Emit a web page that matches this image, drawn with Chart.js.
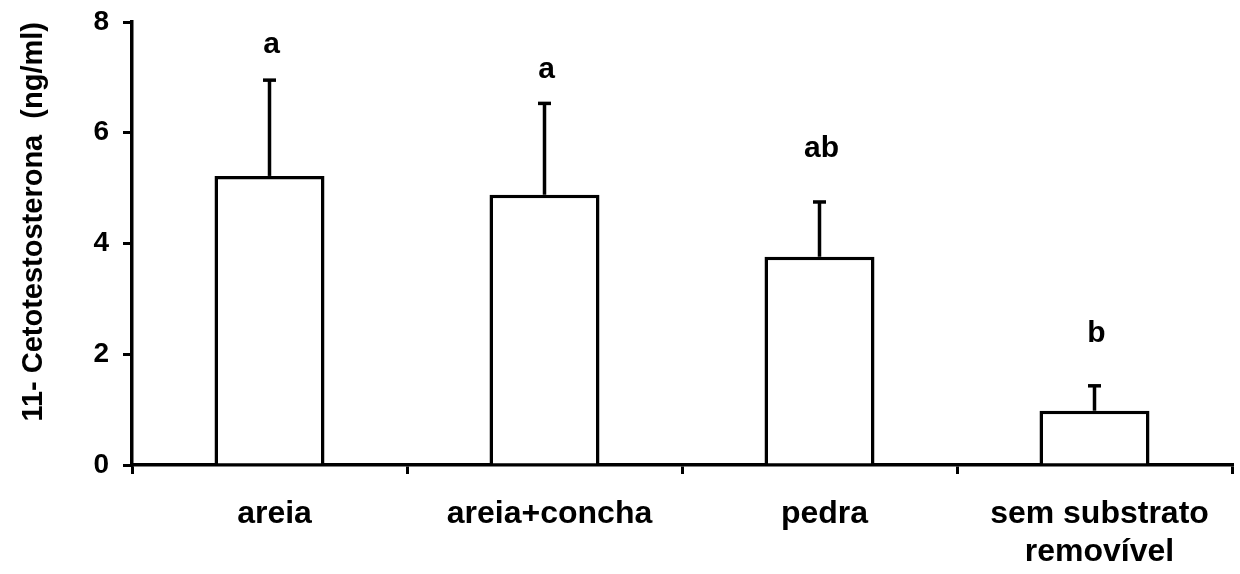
<!DOCTYPE html>
<html>
<head>
<meta charset="utf-8">
<script src="https://cdn.jsdelivr.net/npm/chart.js@4"></script>
<style>
html,body{margin:0;padding:0;background:#fff;}
#wrap{width:1240px;height:574px;position:relative;}
</style>
</head>
<body>
<div id="wrap"><canvas id="c" width="1240" height="574"></canvas></div>
<script>
const categories = ["areia", "areia+concha", "pedra", ["sem substrato", "removível"]];
const means = [5.22, 4.88, 3.76, 0.98];
const errors = [1.73, 1.65, 0.99, 0.45];
const letters = ["a", "a", "ab", "b"];
const letterY = [7.44, 6.99, 5.56, 2.22];
const yTicks = [0, 2, 4, 6, 8];

const FONT = "'Liberation Sans', Arial, sans-serif";

const errorPlugin = {
  id: 'errorBars',
  afterDatasetsDraw(chart) {
    const ctx = chart.ctx;
    const meta = chart.getDatasetMeta(0);
    const y = chart.scales.y;
    ctx.save();
    ctx.strokeStyle = '#000';
    ctx.lineWidth = 3.5;
    meta.data.forEach((bar, i) => {
      const x = bar.x;
      const yTop = y.getPixelForValue(means[i] + errors[i]);
      const yBase = y.getPixelForValue(means[i]);
      ctx.beginPath();
      ctx.moveTo(x, yBase);
      ctx.lineTo(x, yTop);
      ctx.stroke();
      ctx.beginPath();
      ctx.moveTo(x - 6.5, yTop);
      ctx.lineTo(x + 6.5, yTop);
      ctx.stroke();
      ctx.fillStyle = '#000';
      ctx.font = "bold 30px " + FONT;
      ctx.textAlign = 'center';
      ctx.textBaseline = 'alphabetic';
      ctx.fillText(letters[i], x + 2, y.getPixelForValue(letterY[i]));
    });
    ctx.restore();
  }
};

new Chart(document.getElementById('c'), {
  type: 'bar',
  data: {
    labels: categories,
    datasets: [{
      data: means,
      backgroundColor: '#fff',
      borderColor: '#000',
      borderWidth: 3.5,
      borderSkipped: 'start',
      categoryPercentage: 1,
      barPercentage: 0.4
    }]
  },
  options: {
    responsive: false,
    animation: false,
    devicePixelRatio: 1,
    layout: { padding: { top: 22, right: 8, bottom: 0, left: 0 } },
    plugins: { legend: { display: false }, tooltip: { enabled: false } },
    scales: {
      x: {
        afterFit: s => { s.height = 109; },
        grid: { drawOnChartArea: false, drawTicks: true, tickLength: 9, color: '#000', lineWidth: 3, offset: true },
        border: { display: true, color: '#000', width: 3.5 },
        ticks: { color: '#000', font: { family: FONT, size: 32, weight: 'bold', lineHeight: 1.2 }, padding: 21, labelOffset: 5, maxRotation: 0, autoSkip: false }
      },
      y: {
        min: 0, max: 8,
        afterFit: s => { s.width = 132; s.paddingTop = 0; s.paddingBottom = 0; },
        afterBuildTicks: s => { s.ticks = yTicks.map(v => ({ value: v })); },
        grid: { drawOnChartArea: false, drawTicks: true, tickLength: 9, color: '#000', lineWidth: 3 },
        border: { display: true, color: '#000', width: 3.5 },
        ticks: { color: '#000', font: { family: FONT, size: 28, weight: 'bold' }, padding: 14 },
        title: { display: true, text: '11- Cetotestosterona  (ng/ml)', align: 'end', color: '#000', font: { family: FONT, size: 29, weight: 'bold' }, padding: { top: 17, bottom: 0 } }
      }
    }
  },
  plugins: [errorPlugin]
});
</script>
</body>
</html>
